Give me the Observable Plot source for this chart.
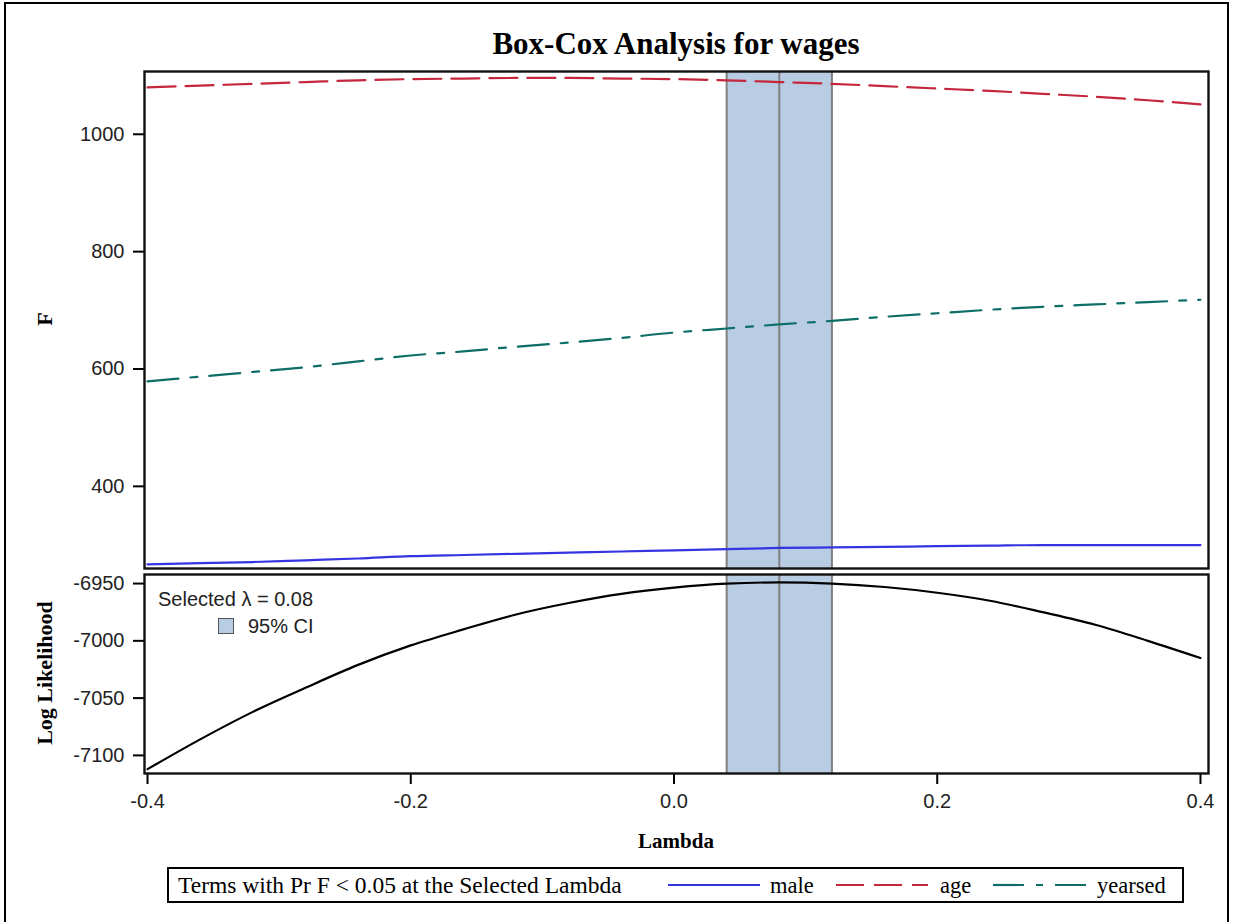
<!DOCTYPE html>
<html>
<head>
<meta charset="utf-8">
<script src="https://cdn.jsdelivr.net/npm/d3@7"></script>
<script src="https://cdn.jsdelivr.net/npm/@observablehq/plot@0.6"></script>
<style>
  body { margin: 0; background: #fff; }
  #page { position: relative; width: 1235px; height: 922px; overflow: hidden; background: #fff; }
  #border { position: absolute; left: 4px; top: 2px; width: 1225px; height: 960px; border: 2px solid #000; box-sizing: border-box; }
  .serif { font-family: "Liberation Serif", "DejaVu Serif", serif; color: #000; }
  .sans { font-family: "Liberation Sans", Arial, sans-serif; color: #222; }
  #title { position: absolute; left: 0; width: 1352px; top: 26px; text-align: center; font-size: 31px; font-weight: bold; }
  #chart_f, #chart_ll { position: absolute; left: 0; }
  #chart_f { top: 61px; }
  #chart_ll { top: 564px; }
  .ylab { position: absolute; font-size: 22px; font-weight: bold; transform: rotate(-90deg); transform-origin: center; white-space: nowrap; }
  #xlab { position: absolute; left: 0; width: 1352px; top: 829px; text-align: center; font-size: 21px; font-weight: bold; }
  #inset { position: absolute; left: 158px; top: 587px; font-size: 20px; line-height: 24px; }
  #legend { position: absolute; left: 0; top: 0; }
</style>
</head>
<body>
<div id="page">
  <div id="border"></div>
  <div id="title" class="serif">Box-Cox Analysis for wages</div>
  <div id="chart_f"></div>
  <div id="chart_ll"></div>
  <div class="ylab serif" style="left:35px; top:306px; width:20px; text-align:center;">F</div>
  <div class="ylab serif" style="left:-35px; top:660px; width:160px; text-align:center;">Log Likelihood</div>
  <div id="xlab" class="serif">Lambda</div>
  <div id="inset" class="sans"></div>
  <svg id="legend" width="1235" height="922"></svg>
</div>
<script>
/* Valores */
const lambda = [-0.40, -0.36, -0.32, -0.28, -0.24, -0.20, -0.16, -0.12, -0.08, -0.04, 0.00,
                0.04, 0.08, 0.12, 0.16, 0.20, 0.24, 0.28, 0.32, 0.36, 0.40]
const male = [267, 269, 271, 274, 277, 281, 283, 285, 287, 289, 291,
              293, 295, 296, 297, 298, 299, 300, 300, 300, 300]
const age = [1080, 1083, 1086, 1089, 1092, 1094, 1095, 1096, 1096, 1095, 1094,
             1092, 1089, 1086, 1082, 1078, 1074, 1069, 1064, 1058, 1051]
const yearsed = [579, 587, 595, 603, 613, 623, 630, 638, 645, 653, 662,
                 669, 676, 682, 689, 695, 701, 706, 710, 714, 718]
const logLik = [-7112, -7086, -7062, -7041, -7021, -7004, -6990, -6977, -6967, -6959, -6953.5,
                -6950, -6949, -6950, -6953, -6958, -6965, -6975, -6986, -7000, -7015]
const ciLower = 0.04
const ciUpper = 0.12
const selectedLambda = 0.08

const xTicks = [-0.4, -0.2, 0.0, 0.2, 0.4]
const fTicks = [400, 600, 800, 1000]
const llTicks = [-7100, -7050, -7000, -6950]

const terms = [
  {name: 'male', values: male, color: '#3434e0', dash: null},
  {name: 'age', values: age, color: '#c4263c', dash: '28,10'},
  {name: 'yearsed', values: yearsed, color: '#0d6e66', dash: '31,12,7,12'}
]

const xDomain = [-0.4023, 0.4061]
const W = 1235
const tickFont = '"Liberation Sans", Arial, sans-serif'
const plain = d => String(d)   // guion normal, sin separador de miles

const ciMarks = [
  Plot.rect([{x1: ciLower, x2: ciUpper}], {x1: 'x1', x2: 'x2', fill: '#b8cce4'}),
  Plot.ruleX([ciLower, selectedLambda, ciUpper], {stroke: '#808080', strokeWidth: 2})
]

/* Panel F */
const chartF = Plot.plot({
  width: W,
  height: 512,
  marginTop: 10,
  marginBottom: 5,
  marginLeft: 144,
  marginRight: 27,
  style: {fontFamily: tickFont, fontSize: '20px', color: '#222', background: 'transparent'},
  x: {domain: xDomain, axis: null},
  y: {domain: [260, 1107], axis: null},
  marks: [
    ...ciMarks,
    ...terms.map(t => Plot.line(lambda.map((l, i) => ({lambda: l, F: t.values[i]})), {
      x: 'lambda', y: 'F', stroke: t.color, strokeWidth: 2.2,
      strokeDasharray: t.dash, curve: 'monotone-x'
    })),
    Plot.axisY(fTicks, {tickSize: 11, tickPadding: 9, strokeWidth: 2, stroke: '#000', label: null,
      fill: '#222', tickFormat: plain}),
    Plot.frame({stroke: '#111', strokeWidth: 2.4})
  ]
})
d3.select('#chart_f').append(() => chartF)

/* Panel Log Likelihood */
const chartLL = Plot.plot({
  width: W,
  height: 254,
  marginTop: 10,
  marginBottom: 45,
  marginLeft: 144,
  marginRight: 27,
  style: {fontFamily: tickFont, fontSize: '20px', color: '#222', background: 'transparent'},
  x: {domain: xDomain, axis: null},
  y: {domain: [-7115.8, -6942.1], axis: null},
  marks: [
    ...ciMarks,
    Plot.line(lambda.map((l, i) => ({lambda: l, ll: logLik[i]})), {
      x: 'lambda', y: 'll', stroke: '#000', strokeWidth: 2.2, curve: 'monotone-x'
    }),
    Plot.axisY(llTicks, {tickSize: 11, tickPadding: 9, strokeWidth: 2, stroke: '#000', label: null,
      fill: '#222', tickFormat: plain}),
    Plot.axisX(xTicks, {tickSize: 11, tickPadding: 9, strokeWidth: 2, stroke: '#000', label: null, fill: '#222',
      tickFormat: d => d.toFixed(1)}),
    Plot.frame({stroke: '#111', strokeWidth: 2.4})
  ]
})
d3.select('#chart_ll').append(() => chartLL)

/* Leyenda interna */
const inset = d3.select('#inset')
inset.append('div').text(`Selected λ = ${selectedLambda.toFixed(2)}`)
const ciRow = inset.append('div').style('margin-left', '60px').style('margin-top', '3px')
  .style('display', 'flex').style('align-items', 'center')
ciRow.append('span').style('display', 'inline-block').style('width', '14px').style('height', '14px')
  .style('background', '#b8cce4').style('border', '1.5px solid #555').style('margin-right', '14px')
ciRow.append('span').text('95% CI')

/* Leyenda inferior */
const leg = d3.select('#legend')
const legFont = '"Liberation Serif", serif'
leg.append('rect').attr('x', 168).attr('y', 868).attr('width', 1015).attr('height', 34)
  .attr('fill', 'none').attr('stroke', '#000').attr('stroke-width', 2)
leg.append('text').attr('x', 178).attr('y', 893)
  .attr('font-size', 23.5).attr('font-family', legFont)
  .text('Terms with Pr F < 0.05 at the Selected Lambda')
const legPos = [{x1: 668, x2: 760, tx: 770}, {x1: 836, x2: 928, tx: 940}, {x1: 993, x2: 1087, tx: 1097}]
terms.forEach((t, i) => {
  const p = legPos[i]
  leg.append('line').attr('x1', p.x1).attr('x2', p.x2).attr('y1', 885).attr('y2', 885)
    .attr('stroke', t.color).attr('stroke-width', 2.2).attr('stroke-dasharray', t.dash)
  leg.append('text').attr('x', p.tx).attr('y', 893)
    .attr('font-size', 22.5).attr('font-family', legFont).text(t.name)
})
</script>
</body>
</html>
